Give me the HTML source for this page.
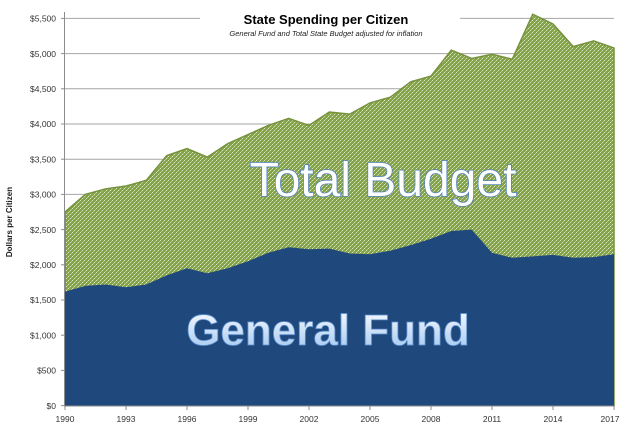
<!DOCTYPE html>
<html><head><meta charset="utf-8"><style>
body{margin:0;background:#fff;}
svg{display:block;font-family:"Liberation Sans",sans-serif;}
</style></head><body>
<svg width="630" height="429" viewBox="0 0 630 429">
<defs>
<pattern id="sp" width="4" height="4" patternUnits="userSpaceOnUse">
<rect width="4" height="4" fill="#84a24a"/>
<rect x="0" y="0" width="1" height="1" fill="#dbe7c2"/>
<rect x="2" y="2" width="1" height="1" fill="#dbe7c2"/>
<rect x="1" y="3" width="1" height="1" fill="#b3c98a"/>
<rect x="3" y="1" width="1" height="1" fill="#b3c98a"/>
</pattern>
<linearGradient id="gf" x1="0" y1="0" x2="0" y2="1">
<stop offset="0" stop-color="#ffffff"/><stop offset="1" stop-color="#9cc3ef"/>
</linearGradient>
</defs>
<g stroke="#a6a6a6" stroke-width="1">
<line x1="65" x2="614" y1="370.4" y2="370.4"/>
<line x1="65" x2="614" y1="335.2" y2="335.2"/>
<line x1="65" x2="614" y1="300" y2="300"/>
<line x1="65" x2="614" y1="264.8" y2="264.8"/>
<line x1="65" x2="614" y1="229.6" y2="229.6"/>
<line x1="65" x2="614" y1="194.4" y2="194.4"/>
<line x1="65" x2="614" y1="159.2" y2="159.2"/>
<line x1="65" x2="614" y1="124" y2="124"/>
<line x1="65" x2="614" y1="88.8" y2="88.8"/>
<line x1="65" x2="614" y1="53.6" y2="53.6"/>
<line x1="65" x2="200" y1="18.4" y2="18.4"/>
<line x1="460" x2="614" y1="18.4" y2="18.4"/>
</g>
<polygon fill="url(#sp)" stroke="#76923c" stroke-width="1.5" points="65,405.6 65,212 85.3,194.4 105.7,188.8 126,186 146.3,180.3 166.7,155.7 187,148.6 207.3,157.1 227.7,143.7 248,134.6 268.3,125.4 288.7,118.4 309,125.4 329.3,112 349.7,114.1 370,102.9 390.3,97.2 410.7,81.8 431,76.1 451.3,50.1 471.7,58.5 492,54.3 512.3,59.2 532.7,14.2 553,24 573.3,46.6 593.7,40.9 614,48 614,405.6"/>
<polygon fill="#1f497d" points="65,405.6 65,291.6 85.3,285.9 105.7,284.5 126,287.3 146.3,284.5 166.7,275.4 187,268.3 207.3,273.2 227.7,268.3 248,261.3 268.3,252.8 288.7,247.2 309,249.3 329.3,248.6 349.7,253.5 370,254.2 390.3,250.7 410.7,245.1 431,238.8 451.3,231 471.7,229.6 492,252.8 512.3,257.8 532.7,256.4 553,254.9 573.3,257.8 593.7,257.1 614,254.2 614,405.6"/>
<g stroke="#8c8c8c" stroke-width="1">
<line x1="64.5" y1="12" x2="64.5" y2="406"/>
<line x1="64" y1="406" x2="615" y2="406"/>
</g>
<g stroke="#8c8c8c" stroke-width="1">
<line x1="61" x2="65" y1="405.6" y2="405.6"/><line x1="61" x2="65" y1="370.4" y2="370.4"/><line x1="61" x2="65" y1="335.2" y2="335.2"/><line x1="61" x2="65" y1="300" y2="300"/><line x1="61" x2="65" y1="264.8" y2="264.8"/><line x1="61" x2="65" y1="229.6" y2="229.6"/><line x1="61" x2="65" y1="194.4" y2="194.4"/><line x1="61" x2="65" y1="159.2" y2="159.2"/><line x1="61" x2="65" y1="124" y2="124"/><line x1="61" x2="65" y1="88.8" y2="88.8"/><line x1="61" x2="65" y1="53.6" y2="53.6"/><line x1="61" x2="65" y1="18.4" y2="18.4"/>
</g>
<g stroke="#8c8c8c" stroke-width="1">
<line x1="65" x2="65" y1="406" y2="410"/><line x1="126" x2="126" y1="406" y2="410"/><line x1="187" x2="187" y1="406" y2="410"/><line x1="248" x2="248" y1="406" y2="410"/><line x1="309" x2="309" y1="406" y2="410"/><line x1="370" x2="370" y1="406" y2="410"/><line x1="431" x2="431" y1="406" y2="410"/><line x1="492" x2="492" y1="406" y2="410"/><line x1="553" x2="553" y1="406" y2="410"/><line x1="614" x2="614" y1="406" y2="410"/>
</g>
<g font-size="8.5" fill="#333" text-anchor="end">
<text x="56" y="409">$0</text><text x="56" y="373.5">$500</text><text x="56" y="338.5">$1,000</text><text x="56" y="303">$1,500</text><text x="56" y="268">$2,000</text><text x="56" y="233">$2,500</text><text x="56" y="197.5">$3,000</text><text x="56" y="162.5">$3,500</text><text x="56" y="127">$4,000</text><text x="56" y="92">$4,500</text><text x="56" y="57">$5,000</text><text x="56" y="21.5">$5,500</text>
</g>
<g font-size="8.5" fill="#333" text-anchor="middle">
<text x="65" y="422">1990</text><text x="126" y="422">1993</text><text x="187" y="422">1996</text><text x="248" y="422">1999</text><text x="309" y="422">2002</text><text x="370" y="422">2005</text><text x="431" y="422">2008</text><text x="492" y="422">2011</text><text x="553" y="422">2014</text><text x="610" y="422">2017</text>
</g>
<text transform="translate(12,222) rotate(-90)" font-size="8" font-weight="bold" text-anchor="middle" fill="#222">Dollars per Citizen</text>
<text x="326" y="24" font-size="13" font-weight="bold" text-anchor="middle" fill="#000">State Spending per Citizen</text>
<text x="326" y="36" font-size="7.5" font-style="italic" text-anchor="middle" fill="#222">General Fund and Total State Budget adjusted for inflation</text>
<text x="383" y="196" font-size="48" text-anchor="middle" fill="#fff" stroke="#4f81bd" stroke-width="1.5" paint-order="stroke">Total Budget</text>
<text x="328" y="345" font-size="44" font-weight="bold" text-anchor="middle" fill="url(#gf)" stroke="#5b8fd0" stroke-width="0.8">General Fund</text>
</svg>
</body></html>
